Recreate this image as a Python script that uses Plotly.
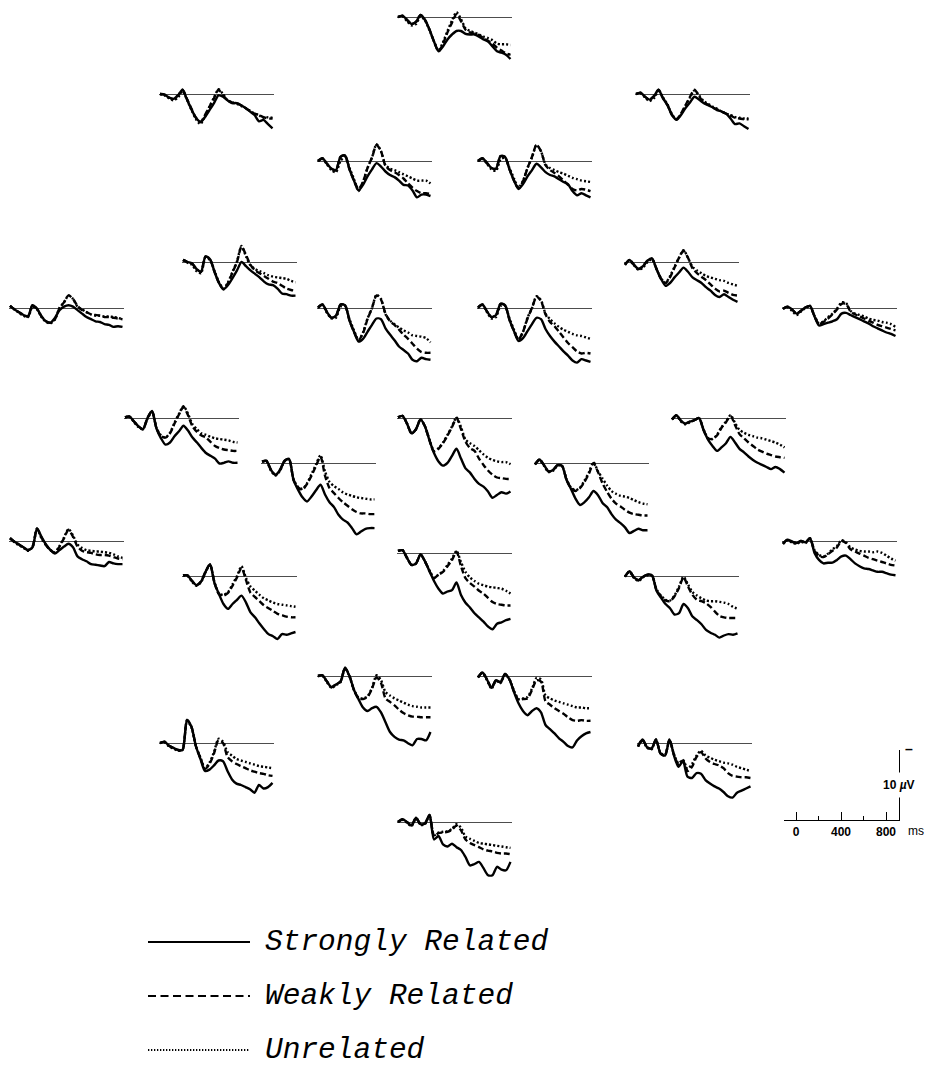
import plotly.graph_objects as go

# ---------------------------------------------------------------------------
# Grand-average ERPs at 26 scalp sites, three relatedness conditions.
# Amplitudes in microvolts (negative plotted up), sampled every 40 ms.
# ---------------------------------------------------------------------------
TIME_MS = [-100, -60, -20, 20, 60, 100, 140, 180, 220, 260, 300, 340, 380,
           420, 460, 500, 540, 580, 620, 660, 700, 740, 780, 820, 860, 900]

MiPf_strong = [0.0, -0.2, 0.4, 1.0, 0.7, -0.3, 0.4, 1.8, 3.5, 4.9, 4.2, 3.2, 2.5, 2.0, 2.0, 2.4, 2.5, 2.5, 2.8, 3.2, 3.5, 4.2, 4.9, 5.1, 5.4, 6.0]
MiPf_weak = [0.0, -0.2, 0.4, 1.0, 0.7, -0.3, 0.4, 1.8, 3.5, 4.9, 3.8, 2.2, 0.8, -0.4, 0.6, 1.8, 2.2, 2.4, 2.6, 3.0, 3.4, 3.8, 4.4, 4.8, 5.2, 5.4]
MiPf_unrel = [0.0, -0.1, 0.6, 1.2, 1.0, -0.1, 0.5, 1.9, 3.5, 4.8, 3.6, 2.0, 0.5, -0.7, 0.3, 1.6, 2.0, 2.2, 2.5, 2.8, 3.0, 3.3, 3.8, 3.9, 3.9, 4.0]

LLPf_strong = [0.0, 0.1, 0.5, 0.7, 0.2, -0.6, 0.8, 2.2, 3.4, 4.0, 3.3, 2.3, 1.3, 0.2, 0.4, 0.9, 1.3, 1.3, 1.6, 2.0, 2.5, 3.0, 3.9, 3.7, 4.3, 4.9]
LLPf_weak = [0.0, 0.1, 0.5, 0.7, 0.2, -0.6, 0.7, 2.1, 3.4, 4.0, 3.0, 1.8, 0.6, -0.6, 0.2, 0.9, 1.2, 1.3, 1.6, 2.0, 2.4, 2.8, 3.0, 3.3, 3.5, 3.5]
LLPf_unrel = [0.0, 0.2, 0.6, 0.9, 0.5, -0.4, 0.8, 2.3, 3.6, 4.3, 3.1, 1.8, 0.5, -0.7, 0.0, 0.9, 1.2, 1.4, 1.7, 2.0, 2.4, 2.8, 3.0, 3.5, 3.3, 3.4]

RLPf_strong = [0.0, -0.2, 0.4, 0.8, 0.3, -0.6, 0.6, 1.6, 3.0, 3.7, 3.0, 2.0, 1.2, 0.4, 0.8, 1.3, 1.6, 1.9, 2.3, 2.5, 2.8, 3.5, 4.3, 4.2, 4.6, 5.0]
RLPf_weak = [0.0, -0.2, 0.4, 0.8, 0.3, -0.6, 0.6, 1.6, 3.0, 3.6, 2.8, 1.6, 0.4, -0.6, 0.3, 1.2, 1.5, 1.9, 2.2, 2.5, 2.8, 3.1, 3.4, 3.5, 3.6, 3.6]
RLPf_unrel = [0.0, -0.1, 0.5, 1.0, 0.6, -0.4, 0.5, 1.5, 2.9, 3.6, 2.9, 1.7, 0.5, -0.5, 0.2, 1.0, 1.4, 1.8, 2.1, 2.5, 2.8, 3.0, 3.3, 3.4, 3.5, 3.5]

LMPf_strong = [0.0, -0.4, 0.4, 1.1, 1.3, -0.6, -0.8, 1.2, 2.8, 4.2, 3.4, 2.2, 1.2, 0.3, 0.8, 1.5, 2.0, 2.3, 2.8, 3.4, 3.5, 4.2, 5.2, 4.8, 4.8, 5.0]
LMPf_weak = [0.0, -0.4, 0.4, 1.1, 1.3, -0.6, -0.8, 1.2, 2.8, 4.0, 3.0, 1.0, -0.5, -2.3, -1.4, 0.7, 1.3, 1.6, 2.0, 2.5, 3.2, 3.8, 4.3, 4.6, 4.6, 4.7]
LMPf_unrel = [0.0, -0.3, 0.5, 1.3, 1.6, 0.0, -0.6, 1.0, 2.6, 4.3, 3.0, 1.0, -0.5, -2.4, -1.4, 0.6, 1.1, 1.3, 1.6, 1.9, 2.2, 2.5, 2.8, 2.8, 2.8, 3.2]

RMPf_strong = [0.0, -0.4, 0.3, 1.0, 1.1, -0.7, -0.6, 1.2, 2.8, 4.0, 3.3, 2.2, 1.3, 0.4, 0.9, 1.6, 2.0, 2.2, 2.6, 3.0, 3.3, 4.3, 4.9, 4.6, 4.9, 5.2]
RMPf_weak = [0.0, -0.4, 0.3, 1.0, 1.1, -0.7, -0.6, 1.2, 2.8, 3.9, 2.9, 1.0, -0.6, -2.3, -1.4, 0.6, 1.3, 1.7, 2.2, 2.8, 3.4, 4.0, 4.2, 4.0, 4.1, 4.3]
RMPf_unrel = [0.0, -0.3, 0.4, 1.2, 1.4, -0.2, -0.5, 1.0, 2.5, 3.8, 2.8, 1.0, -0.5, -2.3, -1.4, 0.5, 1.0, 1.3, 1.6, 1.8, 2.1, 2.4, 2.6, 2.8, 2.9, 3.0]

LDFr_strong = [-0.3, 0.0, 0.2, 1.0, 1.4, -0.8, -0.4, 1.4, 3.0, 3.9, 3.3, 2.3, 1.2, 0.0, 0.6, 1.2, 1.7, 2.2, 2.8, 3.2, 3.3, 3.8, 4.5, 4.6, 4.8, 4.8]
LDFr_weak = [-0.3, 0.0, 0.2, 1.0, 1.4, -0.8, -0.4, 1.4, 3.0, 3.9, 3.0, 1.5, 0.0, -2.2, -1.0, 0.4, 1.2, 1.6, 2.0, 2.4, 2.8, 3.0, 3.4, 3.8, 4.0, 4.1]
LDFr_unrel = [-0.3, 0.1, 0.4, 1.3, 1.6, -0.6, -0.3, 1.3, 2.9, 3.8, 2.9, 1.4, -0.1, -2.3, -0.8, 0.5, 1.0, 1.3, 1.6, 1.9, 2.1, 2.2, 2.3, 2.4, 2.7, 2.9]

RDFr_strong = [0.4, -0.3, 0.4, 1.0, 0.6, -0.2, -0.5, 1.0, 2.4, 3.4, 3.0, 2.2, 1.5, 0.8, 1.4, 2.2, 2.6, 3.0, 3.6, 4.1, 4.7, 5.0, 4.6, 5.0, 5.4, 5.7]
RDFr_weak = [0.4, -0.3, 0.4, 1.0, 0.6, -0.2, -0.5, 1.0, 2.4, 3.0, 2.2, 0.8, -0.6, -1.6, -0.6, 0.9, 1.6, 2.1, 2.6, 3.2, 3.8, 4.2, 4.1, 4.4, 4.7, 4.8]
RDFr_unrel = [0.4, -0.2, 0.5, 1.1, 0.8, 0.0, -0.4, 1.0, 2.3, 3.0, 2.0, 0.7, -0.6, -1.7, -0.6, 0.7, 1.2, 1.6, 2.0, 2.2, 2.4, 2.6, 2.7, 3.0, 3.2, 3.4]

LLFr_strong = [-0.3, 0.2, 0.6, 1.0, 1.2, -0.4, 0.1, 1.2, 1.9, 2.1, 1.4, 0.3, -0.2, -0.4, -0.2, 0.3, 0.8, 1.3, 1.6, 1.9, 2.0, 2.3, 2.4, 2.7, 2.6, 2.7]
LLFr_weak = [-0.3, 0.2, 0.6, 1.0, 1.2, -0.4, 0.1, 1.2, 1.9, 2.1, 1.6, 0.0, -0.8, -1.8, -1.3, -0.3, 0.3, 0.6, 0.9, 1.0, 1.1, 1.3, 1.3, 1.4, 1.5, 1.6]
LLFr_unrel = [-0.3, 0.2, 0.7, 1.1, 1.3, -0.2, 0.2, 1.3, 2.0, 2.2, 1.6, 0.0, -0.8, -1.8, -1.3, -0.2, 0.2, 0.6, 0.9, 1.1, 1.1, 1.2, 1.2, 1.3, 1.4, 1.6]

LMFr_strong = [-0.1, -0.5, 0.6, 1.4, 1.1, -0.5, -0.4, 1.8, 3.4, 4.8, 4.4, 3.4, 2.4, 1.5, 1.6, 2.9, 3.8, 4.6, 5.5, 6.0, 6.5, 7.4, 7.6, 7.1, 7.3, 7.4]
LMFr_weak = [-0.1, -0.5, 0.6, 1.4, 1.1, -0.5, -0.4, 1.8, 3.4, 4.6, 3.6, 1.6, 0.0, -1.8, -1.2, 0.8, 1.9, 2.4, 3.1, 3.8, 4.4, 5.1, 5.8, 6.3, 6.4, 6.4]
LMFr_unrel = [0.0, -0.4, 0.7, 1.5, 1.4, -0.2, -0.3, 1.6, 3.2, 4.6, 3.5, 1.5, 0.0, -1.9, -1.3, 0.9, 1.8, 2.3, 2.8, 3.2, 3.5, 3.9, 4.0, 4.1, 4.3, 4.9]

RMFr_strong = [-0.1, -0.5, 0.5, 1.3, 1.0, -0.6, -0.4, 1.7, 3.3, 4.7, 4.3, 3.3, 2.3, 1.4, 1.6, 3.0, 4.0, 4.8, 5.5, 6.2, 6.8, 7.5, 7.8, 7.3, 7.5, 7.7]
RMFr_weak = [-0.1, -0.5, 0.5, 1.3, 1.0, -0.6, -0.4, 1.7, 3.3, 4.5, 3.4, 1.5, 0.0, -1.6, -1.0, 0.9, 2.0, 2.6, 3.4, 4.2, 5.0, 5.6, 6.2, 6.5, 6.4, 6.5]
RMFr_unrel = [0.0, -0.4, 0.6, 1.5, 1.3, -0.3, -0.3, 1.5, 3.1, 4.5, 3.4, 1.4, 0.0, -1.7, -1.1, 0.8, 1.6, 2.2, 2.7, 3.1, 3.4, 3.7, 3.9, 4.0, 4.2, 4.4]

RLFr_strong = [0.1, -0.2, 0.2, 0.8, 0.4, -0.1, -0.3, 1.2, 2.5, 2.3, 2.1, 1.9, 1.6, 0.8, 0.7, 1.0, 1.3, 1.6, 1.9, 2.2, 2.6, 2.9, 3.2, 3.5, 3.7, 4.0]
RLFr_weak = [0.1, -0.2, 0.2, 0.8, 0.4, -0.1, -0.3, 1.2, 2.3, 2.0, 1.5, 0.9, 0.2, -0.6, -0.6, 0.5, 0.9, 1.2, 1.5, 1.8, 2.1, 2.4, 2.6, 2.8, 3.0, 3.2]
RLFr_unrel = [0.1, -0.1, 0.4, 1.0, 0.5, 0.0, -0.2, 1.1, 2.2, 1.9, 1.3, 0.8, 0.1, -0.8, -0.7, 0.4, 0.8, 1.0, 1.2, 1.5, 1.7, 1.8, 2.0, 2.1, 2.3, 2.7]

LDCe_strong = [-0.1, -0.2, 0.5, 1.2, 1.6, 0.0, -1.0, 1.5, 2.9, 3.8, 3.5, 2.6, 1.9, 1.1, 1.8, 2.8, 3.5, 4.3, 5.0, 5.4, 5.8, 6.5, 6.4, 6.2, 6.4, 6.4]
LDCe_weak = [-0.1, -0.2, 0.5, 1.2, 1.6, 0.0, -1.0, 1.5, 2.6, 2.8, 2.2, 0.8, -0.5, -1.6, -0.4, 1.2, 2.0, 2.5, 2.8, 3.4, 4.0, 4.3, 4.5, 4.6, 4.7, 4.7]
LDCe_unrel = [-0.1, -0.2, 0.6, 1.3, 1.6, 0.1, -0.9, 1.4, 2.5, 2.8, 2.1, 0.7, -0.6, -1.7, -0.6, 0.9, 1.6, 2.2, 2.4, 2.7, 2.9, 3.0, 3.1, 3.2, 3.4, 3.5]

MiCe_strong = [-0.1, -0.3, 0.8, 2.2, 1.6, 0.2, 1.2, 3.2, 5.0, 6.2, 6.8, 6.4, 5.4, 4.4, 5.8, 7.2, 7.8, 8.7, 9.4, 9.8, 10.5, 11.4, 11.0, 10.6, 10.8, 10.5]
MiCe_weak = [-0.1, -0.3, 0.8, 2.2, 1.6, 0.2, 1.2, 3.2, 4.8, 4.4, 3.6, 2.5, 1.3, 0.0, 1.6, 3.4, 4.3, 4.7, 5.8, 6.7, 7.5, 8.1, 8.5, 8.6, 8.7, 8.7]
MiCe_unrel = [-0.1, -0.3, 0.8, 2.2, 1.6, 0.2, 1.2, 3.1, 4.7, 4.3, 3.5, 2.4, 1.2, -0.1, 1.3, 3.1, 3.6, 4.0, 4.6, 5.2, 5.7, 6.0, 6.2, 6.3, 6.3, 6.6]

RDCe_strong = [0.2, -0.4, 0.4, 0.8, 0.5, 0.3, 0.0, 1.7, 3.1, 4.0, 4.7, 4.2, 3.6, 2.7, 3.5, 4.4, 4.9, 5.5, 6.0, 6.4, 6.7, 7.0, 7.3, 7.0, 7.3, 7.8]
RDCe_weak = [0.2, -0.4, 0.4, 0.8, 0.5, 0.3, 0.0, 1.7, 2.9, 3.0, 2.5, 1.4, 0.6, -0.3, 1.0, 2.3, 2.9, 3.5, 4.0, 4.5, 4.8, 5.1, 5.3, 5.5, 5.6, 5.7]
RDCe_unrel = [0.2, -0.3, 0.5, 0.9, 0.6, 0.3, 0.0, 1.6, 2.9, 3.0, 2.4, 1.3, 0.5, -0.4, 0.7, 1.7, 2.1, 2.4, 2.6, 2.8, 2.9, 3.1, 3.3, 3.5, 3.8, 4.2]

LMCe_strong = [-0.2, -0.3, 1.0, 1.7, 1.0, -0.3, -0.6, 2.4, 3.8, 4.9, 5.5, 4.8, 3.9, 3.1, 4.5, 5.6, 6.3, 7.4, 8.1, 8.5, 9.3, 10.2, 9.8, 9.4, 9.3, 9.3]
LMCe_weak = [-0.2, -0.3, 1.0, 1.7, 1.0, -0.3, -0.6, 2.4, 3.5, 3.8, 3.0, 1.8, 0.4, -0.9, 1.8, 3.6, 4.3, 5.0, 5.6, 6.1, 6.6, 7.0, 7.2, 7.2, 7.3, 7.3]
LMCe_unrel = [-0.2, -0.2, 1.1, 1.8, 1.1, -0.2, -0.5, 2.3, 3.4, 3.7, 2.9, 1.6, 0.2, -1.1, 1.2, 2.7, 3.3, 3.7, 4.2, 4.5, 4.7, 4.9, 5.0, 5.1, 5.2, 5.2]

RMCe_strong = [0.2, -0.5, 0.3, 1.2, 1.0, 0.3, 0.4, 2.4, 3.7, 5.1, 6.0, 5.6, 4.9, 4.0, 4.6, 5.7, 6.3, 7.3, 8.1, 8.6, 9.2, 10.0, 9.7, 9.4, 9.6, 9.6]
RMCe_weak = [0.2, -0.5, 0.3, 1.2, 1.0, 0.3, 0.4, 2.4, 3.6, 4.0, 3.6, 2.7, 1.5, 0.0, 1.3, 2.9, 4.1, 5.1, 5.8, 6.2, 6.7, 7.1, 7.3, 7.4, 7.5, 7.5]
RMCe_unrel = [0.2, -0.4, 0.4, 1.3, 1.1, 0.4, 0.4, 2.3, 3.5, 3.9, 3.5, 2.5, 1.3, -0.1, 1.2, 2.2, 3.2, 4.0, 4.4, 4.7, 4.8, 5.0, 5.3, 5.6, 5.8, 5.9]

LLTe_strong = [-0.4, 0.1, 0.5, 0.9, 1.3, 0.9, -1.8, -0.6, 0.5, 1.3, 1.8, 1.3, 0.8, 0.4, 0.9, 2.2, 2.6, 2.9, 3.3, 3.4, 3.5, 3.6, 3.0, 3.2, 3.3, 3.3]
LLTe_weak = [-0.4, 0.1, 0.5, 0.9, 1.3, 0.8, -1.8, -0.5, 0.6, 1.3, 1.7, 0.8, -0.4, -1.6, -0.6, 0.8, 1.4, 1.6, 1.7, 1.9, 2.0, 2.0, 2.1, 2.3, 2.5, 2.6]
LLTe_unrel = [-0.4, 0.2, 0.6, 1.0, 1.4, 0.9, -1.7, -0.4, 0.6, 1.3, 1.6, 0.7, -0.5, -1.7, -0.8, 0.5, 1.0, 1.3, 1.4, 1.5, 1.5, 1.6, 1.7, 1.9, 2.2, 2.4]

RLTe_strong = [0.4, -0.2, 0.1, 0.3, 0.0, 0.2, -0.4, 1.7, 2.7, 3.2, 3.1, 3.1, 2.7, 2.2, 2.1, 2.6, 3.2, 3.6, 3.9, 4.0, 4.2, 4.4, 4.4, 4.6, 4.8, 4.9]
RLTe_weak = [0.4, -0.2, 0.1, 0.3, 0.0, 0.2, -0.4, 1.4, 2.1, 2.3, 1.9, 1.4, 0.9, 0.0, 0.3, 1.2, 1.5, 1.8, 2.1, 2.4, 2.6, 2.8, 3.0, 3.2, 3.4, 3.5]
RLTe_unrel = [0.4, -0.1, 0.2, 0.4, 0.1, 0.3, -0.3, 1.3, 2.0, 2.2, 1.8, 1.2, 0.7, -0.1, 0.2, 0.9, 1.2, 1.4, 1.5, 1.5, 1.6, 1.5, 1.7, 2.1, 2.5, 2.8]

MiPa_strong = [-0.3, -0.4, 0.7, 1.7, 1.5, 0.2, 1.2, 2.6, 4.0, 5.1, 5.8, 5.5, 5.3, 4.2, 6.0, 7.1, 7.8, 8.6, 9.2, 9.8, 10.5, 10.9, 10.1, 9.9, 9.6, 9.4]
MiPa_weak = [-0.3, -0.4, 0.7, 1.7, 1.5, 0.2, 1.2, 2.6, 3.6, 3.1, 2.7, 1.9, 1.0, -0.2, 1.9, 3.6, 4.3, 4.8, 5.4, 5.8, 6.4, 7.0, 7.3, 7.4, 7.5, 7.5]
MiPa_unrel = [-0.3, -0.4, 0.7, 1.7, 1.5, 0.2, 1.2, 2.5, 3.5, 3.1, 2.6, 1.7, 0.8, -0.3, 1.3, 2.7, 3.5, 4.0, 4.4, 4.6, 4.8, 4.9, 5.0, 5.1, 5.4, 5.8]

LDPa_strong = [-0.1, -0.1, 0.7, 1.3, 0.8, -0.6, -1.7, 1.0, 2.6, 4.0, 4.7, 4.0, 3.4, 2.8, 3.8, 5.2, 5.9, 6.8, 7.6, 8.3, 8.6, 9.0, 8.3, 8.4, 8.2, 8.0]
LDPa_weak = [-0.1, -0.1, 0.7, 1.3, 0.8, -0.6, -1.7, 1.0, 2.6, 2.8, 2.4, 1.4, 0.2, -1.2, 0.6, 2.4, 3.0, 3.6, 4.2, 4.6, 5.0, 5.4, 5.6, 5.8, 5.9, 5.9]
LDPa_unrel = [-0.1, 0.0, 0.8, 1.4, 0.9, -0.5, -1.6, 0.9, 2.5, 2.7, 2.3, 1.2, 0.0, -1.4, 0.3, 1.5, 2.1, 2.7, 3.2, 3.5, 3.8, 4.0, 4.1, 4.2, 4.3, 4.4]

RDPa_strong = [0.1, -0.7, 0.2, 0.6, 0.1, -0.2, -0.1, 2.1, 3.1, 4.0, 4.6, 5.5, 5.3, 4.0, 4.6, 5.8, 6.3, 6.9, 7.7, 8.1, 8.4, 8.8, 8.5, 8.3, 8.4, 8.2]
RDPa_weak = [0.1, -0.7, 0.2, 0.6, 0.1, -0.2, -0.1, 2.0, 2.9, 3.5, 3.6, 2.9, 1.7, 0.2, 1.5, 2.7, 3.4, 3.6, 3.9, 4.4, 5.1, 5.7, 5.9, 6.0, 6.0, 6.0]
RDPa_unrel = [0.1, -0.6, 0.3, 0.7, 0.2, -0.1, 0.0, 1.9, 2.8, 3.4, 3.5, 2.8, 1.5, 0.1, 1.2, 2.3, 2.8, 3.2, 3.5, 3.6, 3.6, 3.7, 3.8, 4.0, 4.4, 4.7]

LMOc_strong = [0.0, -0.1, 0.8, 1.6, 1.2, 0.8, -1.2, 0.0, 2.0, 3.3, 4.5, 5.0, 4.6, 4.4, 5.2, 6.6, 8.0, 8.7, 9.1, 9.2, 9.6, 9.9, 9.0, 9.0, 9.2, 8.0]
LMOc_weak = [0.0, -0.1, 0.8, 1.6, 1.2, 0.8, -1.2, 0.0, 2.0, 3.2, 3.3, 3.0, 1.8, 0.2, 1.0, 3.2, 3.7, 4.2, 4.8, 5.3, 5.6, 5.8, 5.8, 5.9, 5.9, 5.9]
LMOc_unrel = [0.0, 0.0, 0.9, 1.7, 1.3, 0.9, -1.1, 0.1, 2.0, 3.1, 3.2, 2.9, 1.7, -0.1, 0.6, 2.3, 2.8, 3.2, 3.5, 3.8, 4.1, 4.3, 4.4, 4.5, 4.5, 4.5]

RMOc_strong = [0.2, -0.5, 0.5, 1.7, 0.6, 0.9, -0.3, 0.5, 2.3, 3.9, 5.0, 5.6, 5.0, 4.6, 5.2, 7.0, 7.6, 8.2, 8.9, 9.4, 10.0, 10.2, 9.2, 8.6, 8.2, 8.0]
RMOc_weak = [0.2, -0.5, 0.5, 1.7, 0.6, 0.9, -0.3, 0.5, 2.2, 3.4, 3.3, 3.2, 2.0, 0.6, 0.8, 3.6, 4.1, 4.6, 5.0, 5.4, 5.9, 6.3, 6.4, 6.3, 6.4, 6.4]
RMOc_unrel = [0.2, -0.4, 0.6, 1.8, 0.7, 1.0, -0.2, 0.5, 2.1, 3.3, 3.2, 3.0, 1.8, 0.3, 0.5, 2.8, 3.2, 3.5, 3.7, 3.9, 4.1, 4.3, 4.5, 4.5, 4.6, 4.6]

LLOc_strong = [0.0, -0.2, 0.4, 0.7, 1.0, 1.0, -3.3, -2.3, 0.5, 2.3, 4.0, 3.8, 3.2, 2.5, 2.6, 4.0, 5.2, 5.8, 6.0, 6.3, 6.6, 7.1, 6.0, 6.5, 6.3, 5.7]
LLOc_weak = [0.0, -0.2, 0.4, 0.7, 1.0, 1.0, -3.3, -2.3, 0.5, 2.2, 3.7, 3.0, 1.5, -0.4, 0.0, 2.0, 2.6, 3.0, 3.3, 3.6, 3.9, 4.1, 4.3, 4.4, 4.6, 4.7]
LLOc_unrel = [0.0, -0.1, 0.5, 0.8, 1.1, 1.0, -3.2, -2.2, 0.5, 2.1, 3.6, 2.8, 1.3, -0.6, -0.2, 1.3, 1.8, 2.3, 2.5, 2.7, 2.9, 3.1, 3.3, 3.4, 3.5, 3.6]

RLOc_strong = [0.5, -0.5, 0.6, 0.8, -0.5, 1.5, 1.8, -0.5, 1.8, 3.4, 2.6, 4.8, 5.0, 4.3, 4.4, 5.3, 5.8, 6.2, 6.5, 7.0, 7.6, 7.8, 7.1, 6.8, 6.5, 6.2]
RLOc_weak = [0.5, -0.5, 0.6, 0.8, -0.5, 1.5, 1.8, -0.5, 1.7, 3.0, 2.5, 4.0, 3.4, 2.0, 1.3, 2.2, 2.7, 3.0, 3.2, 3.6, 4.3, 4.7, 4.8, 4.9, 4.9, 5.0]
RLOc_unrel = [0.5, -0.4, 0.7, 0.9, -0.4, 1.4, 1.7, -0.4, 1.6, 2.9, 2.4, 3.7, 3.0, 1.8, 1.1, 1.8, 2.1, 2.4, 2.6, 2.8, 2.9, 3.1, 3.4, 3.6, 3.8, 4.0]

MiOc_strong = [0.0, -0.4, 0.0, 0.5, -0.6, 0.3, 0.2, -1.0, 2.5, 2.0, 3.2, 3.5, 3.1, 3.6, 4.0, 5.0, 6.2, 6.0, 5.7, 6.6, 7.6, 7.6, 6.4, 6.8, 6.9, 5.7]
MiOc_weak = [0.0, -0.4, 0.0, 0.5, -0.6, 0.3, 0.2, -1.0, 2.0, 1.6, 1.5, 1.4, 1.1, 0.5, 1.2, 2.5, 3.0, 3.3, 3.6, 3.9, 4.1, 4.2, 4.4, 4.5, 4.5, 4.6]
MiOc_unrel = [0.0, -0.3, 0.1, 0.6, -0.5, 0.4, 0.3, -0.9, 1.9, 1.5, 1.4, 1.3, 1.0, 0.3, 0.8, 2.1, 2.4, 2.7, 3.0, 3.1, 3.2, 3.3, 3.4, 3.5, 3.6, 3.7]

CONDITIONS = ["Strongly Related", "Weakly Related", "Unrelated"]

SITE_WAVES = {
    "MiPf": (MiPf_strong, MiPf_weak, MiPf_unrel),
    "LLPf": (LLPf_strong, LLPf_weak, LLPf_unrel),
    "RLPf": (RLPf_strong, RLPf_weak, RLPf_unrel),
    "LMPf": (LMPf_strong, LMPf_weak, LMPf_unrel),
    "RMPf": (RMPf_strong, RMPf_weak, RMPf_unrel),
    "LDFr": (LDFr_strong, LDFr_weak, LDFr_unrel),
    "RDFr": (RDFr_strong, RDFr_weak, RDFr_unrel),
    "LLFr": (LLFr_strong, LLFr_weak, LLFr_unrel),
    "LMFr": (LMFr_strong, LMFr_weak, LMFr_unrel),
    "RMFr": (RMFr_strong, RMFr_weak, RMFr_unrel),
    "RLFr": (RLFr_strong, RLFr_weak, RLFr_unrel),
    "LDCe": (LDCe_strong, LDCe_weak, LDCe_unrel),
    "MiCe": (MiCe_strong, MiCe_weak, MiCe_unrel),
    "RDCe": (RDCe_strong, RDCe_weak, RDCe_unrel),
    "LMCe": (LMCe_strong, LMCe_weak, LMCe_unrel),
    "RMCe": (RMCe_strong, RMCe_weak, RMCe_unrel),
    "LLTe": (LLTe_strong, LLTe_weak, LLTe_unrel),
    "RLTe": (RLTe_strong, RLTe_weak, RLTe_unrel),
    "MiPa": (MiPa_strong, MiPa_weak, MiPa_unrel),
    "LDPa": (LDPa_strong, LDPa_weak, LDPa_unrel),
    "RDPa": (RDPa_strong, RDPa_weak, RDPa_unrel),
    "LMOc": (LMOc_strong, LMOc_weak, LMOc_unrel),
    "RMOc": (RMOc_strong, RMOc_weak, RMOc_unrel),
    "LLOc": (LLOc_strong, LLOc_weak, LLOc_unrel),
    "RLOc": (RLOc_strong, RLOc_weak, RLOc_unrel),
    "MiOc": (MiOc_strong, MiOc_weak, MiOc_unrel),
}

# ---------------------------------------------------------------------------
# Layout: head-map placement of each site (left edge of epoch, baseline) in px
# ---------------------------------------------------------------------------
FIG_W, FIG_H = 925, 1071
PX_PER_MS = 0.1125
PX_PER_UV = 7.0
T_MIN, T_MAX = -110, 912
UV_TOP, UV_BOTTOM = -5.0, 13.0

SITE_POS = {
    "MiPf": (398, 17),
    "LLPf": (160, 94), "RLPf": (636, 94),
    "LMPf": (318, 161), "RMPf": (478, 161),
    "LDFr": (183, 262), "RDFr": (625, 262),
    "LLFr": (10, 308), "LMFr": (318, 308), "RMFr": (478, 308), "RLFr": (783, 308),
    "LDCe": (125, 418), "MiCe": (398, 418), "RDCe": (672, 418),
    "LMCe": (262, 463), "RMCe": (535, 463),
    "LLTe": (10, 541), "RLTe": (783, 541),
    "MiPa": (398, 553),
    "LDPa": (183, 576), "RDPa": (625, 576),
    "LMOc": (318, 676), "RMOc": (478, 676),
    "LLOc": (160, 743), "RLOc": (638, 743),
    "MiOc": (398, 822),
}

LINE_STYLES = {
    "Strongly Related": "solid",
    "Weakly Related": "6px,3px",
    "Unrelated": "2px,2.2px",
}
LEGEND_STYLES = {
    "Strongly Related": "solid",
    "Weakly Related": "8px,4.5px",
    "Unrelated": "1.3px,1.7px",
}


def xpaper(px):
    return px / FIG_W


def ypaper(px):
    return 1 - px / FIG_H


def axis_names(i):
    if i == 1:
        return "x", "y", "xaxis", "yaxis"
    return f"x{i}", f"y{i}", f"xaxis{i}", f"yaxis{i}"


fig = go.Figure()
layout = {}

for i, site in enumerate(SITE_WAVES, start=1):
    xr, yr, xk, yk = axis_names(i)
    x0, yb = SITE_POS[site]
    left = x0 + (T_MIN - TIME_MS[0]) * PX_PER_MS
    right = left + (T_MAX - T_MIN) * PX_PER_MS
    top = max(0.0, yb + UV_TOP * PX_PER_UV)
    bottom = min(FIG_H, yb + UV_BOTTOM * PX_PER_UV)
    layout[xk] = dict(domain=[xpaper(left), xpaper(right)], range=[T_MIN, T_MAX],
                      anchor=yr, showgrid=False, zeroline=False, showline=False,
                      showticklabels=False, ticks="", fixedrange=True)
    layout[yk] = dict(domain=[ypaper(bottom), ypaper(top)],
                      range=[(bottom - yb) / PX_PER_UV, (top - yb) / PX_PER_UV],
                      anchor=xr, showgrid=False, zeroline=True,
                      zerolinecolor="#4d4d4d", zerolinewidth=1.1,
                      showline=False, showticklabels=False, ticks="",
                      fixedrange=True)
    for cond, wave in zip(CONDITIONS, SITE_WAVES[site]):
        fig.add_trace(go.Scatter(
            x=TIME_MS, y=wave, mode="lines", xaxis=xr, yaxis=yr,
            line=dict(color="black", width=2.4, dash=LINE_STYLES[cond],
                      shape="spline", smoothing=0.7),
            showlegend=False, hoverinfo="skip", name=f"{site} {cond}"))

# ---------------------------------------------------------------------------
# Calibration bar: 10 uV (negative up) and time scale in ms
# ---------------------------------------------------------------------------
CAL_UV = 10
CAL_ZERO_X, CAL_BASE_Y = 796, 820
sc = len(SITE_WAVES) + 1
xr, yr, xk, yk = axis_names(sc)
cal_left = CAL_ZERO_X + T_MIN * PX_PER_MS
cal_right = cal_left + (T_MAX - T_MIN) * PX_PER_MS
cal_top = CAL_BASE_Y - CAL_UV * PX_PER_UV
layout[xk] = dict(domain=[xpaper(cal_left), xpaper(cal_right)], range=[T_MIN, T_MAX],
                  anchor=yr, showgrid=False, zeroline=False, showline=True,
                  linecolor="black", linewidth=1.3, ticks="inside",
                  tickvals=[0, 400, 800], ticklen=8, tickwidth=1.3, tickcolor="black",
                  minor=dict(tickvals=[200, 600], ticks="inside", ticklen=4,
                             tickwidth=1.3, tickcolor="black"),
                  tickfont=dict(family="Liberation Sans", size=12, color="#000000",
                                weight="bold"),
                  fixedrange=True)
layout[yk] = dict(domain=[ypaper(CAL_BASE_Y), ypaper(cal_top)], range=[0, -CAL_UV],
                  anchor=xr, side="right", showgrid=False, zeroline=False,
                  showline=True, linecolor="black", linewidth=1.3,
                  ticks="inside", tickvals=[-CAL_UV], ticklen=5, tickwidth=1.3,
                  tickcolor="black", showticklabels=False, fixedrange=True)
# invisible anchor trace so the calibration axes are drawn
fig.add_trace(go.Scatter(x=[T_MIN], y=[0], mode="markers", marker=dict(opacity=0),
                         xaxis=xr, yaxis=yr, showlegend=False, hoverinfo="skip"))

annotations = [
    dict(text=f"{CAL_UV} <i>µ</i>V", x=xpaper(cal_right), y=ypaper(CAL_BASE_Y - CAL_UV * PX_PER_UV / 2),
         xref="paper", yref="paper", showarrow=False, xanchor="center", yanchor="middle",
         bgcolor="white", borderpad=5,
         font=dict(family="Liberation Sans", size=12, color="#000000", weight="bold")),
    dict(text="–", x=xpaper(cal_right + 10), y=ypaper(cal_top - 1),
         xref="paper", yref="paper", showarrow=False, xanchor="center", yanchor="middle",
         font=dict(family="Liberation Sans", size=14, color="#000000", weight="bold")),
    dict(text="ms", x=xpaper(cal_right + 17), y=ypaper(CAL_BASE_Y + 11),
         xref="paper", yref="paper", showarrow=False, xanchor="center", yanchor="middle",
         font=dict(family="Liberation Sans", size=12, color="#000000")),
]

# ---------------------------------------------------------------------------
# Legend: long line samples with typewriter-italic labels
# ---------------------------------------------------------------------------
LEG_X0, LEG_X1, LEG_TEXT_X = 148, 250, 263
LEG_ROW0, LEG_ROW_GAP = 942, 54
lg = sc + 1
xr, yr, xk, yk = axis_names(lg)
layout[xk] = dict(domain=[xpaper(LEG_X0), xpaper(LEG_X1)], range=[0, 1], anchor=yr,
                  visible=False, fixedrange=True)
leg_top = LEG_ROW0 - 0.5 * LEG_ROW_GAP
layout[yk] = dict(domain=[0, ypaper(leg_top)],
                  range=[(FIG_H - LEG_ROW0) / LEG_ROW_GAP, -0.5], anchor=xr,
                  visible=False, fixedrange=True)
for row, cond in enumerate(CONDITIONS):
    fig.add_trace(go.Scatter(
        x=[0, 1], y=[row, row], mode="lines", xaxis=xr, yaxis=yr,
        line=dict(color="black", width=1.8, dash=LEGEND_STYLES[cond]),
        showlegend=False, hoverinfo="skip", name=cond))
    annotations.append(dict(
        text=cond, x=xpaper(LEG_TEXT_X), y=ypaper(LEG_ROW0 + row * LEG_ROW_GAP),
        xref="paper", yref="paper", showarrow=False, xanchor="left", yanchor="middle",
        font=dict(family="Liberation Mono", size=29.5, color="#000000", style="italic")))

fig.update_layout(
    width=FIG_W, height=FIG_H,
    margin=dict(l=0, r=0, t=0, b=0),
    paper_bgcolor="white", plot_bgcolor="rgba(0,0,0,0)",
    showlegend=False, annotations=annotations,
    **layout,
)

fig.write_html("out.html", config={"displayModeBar": False})
